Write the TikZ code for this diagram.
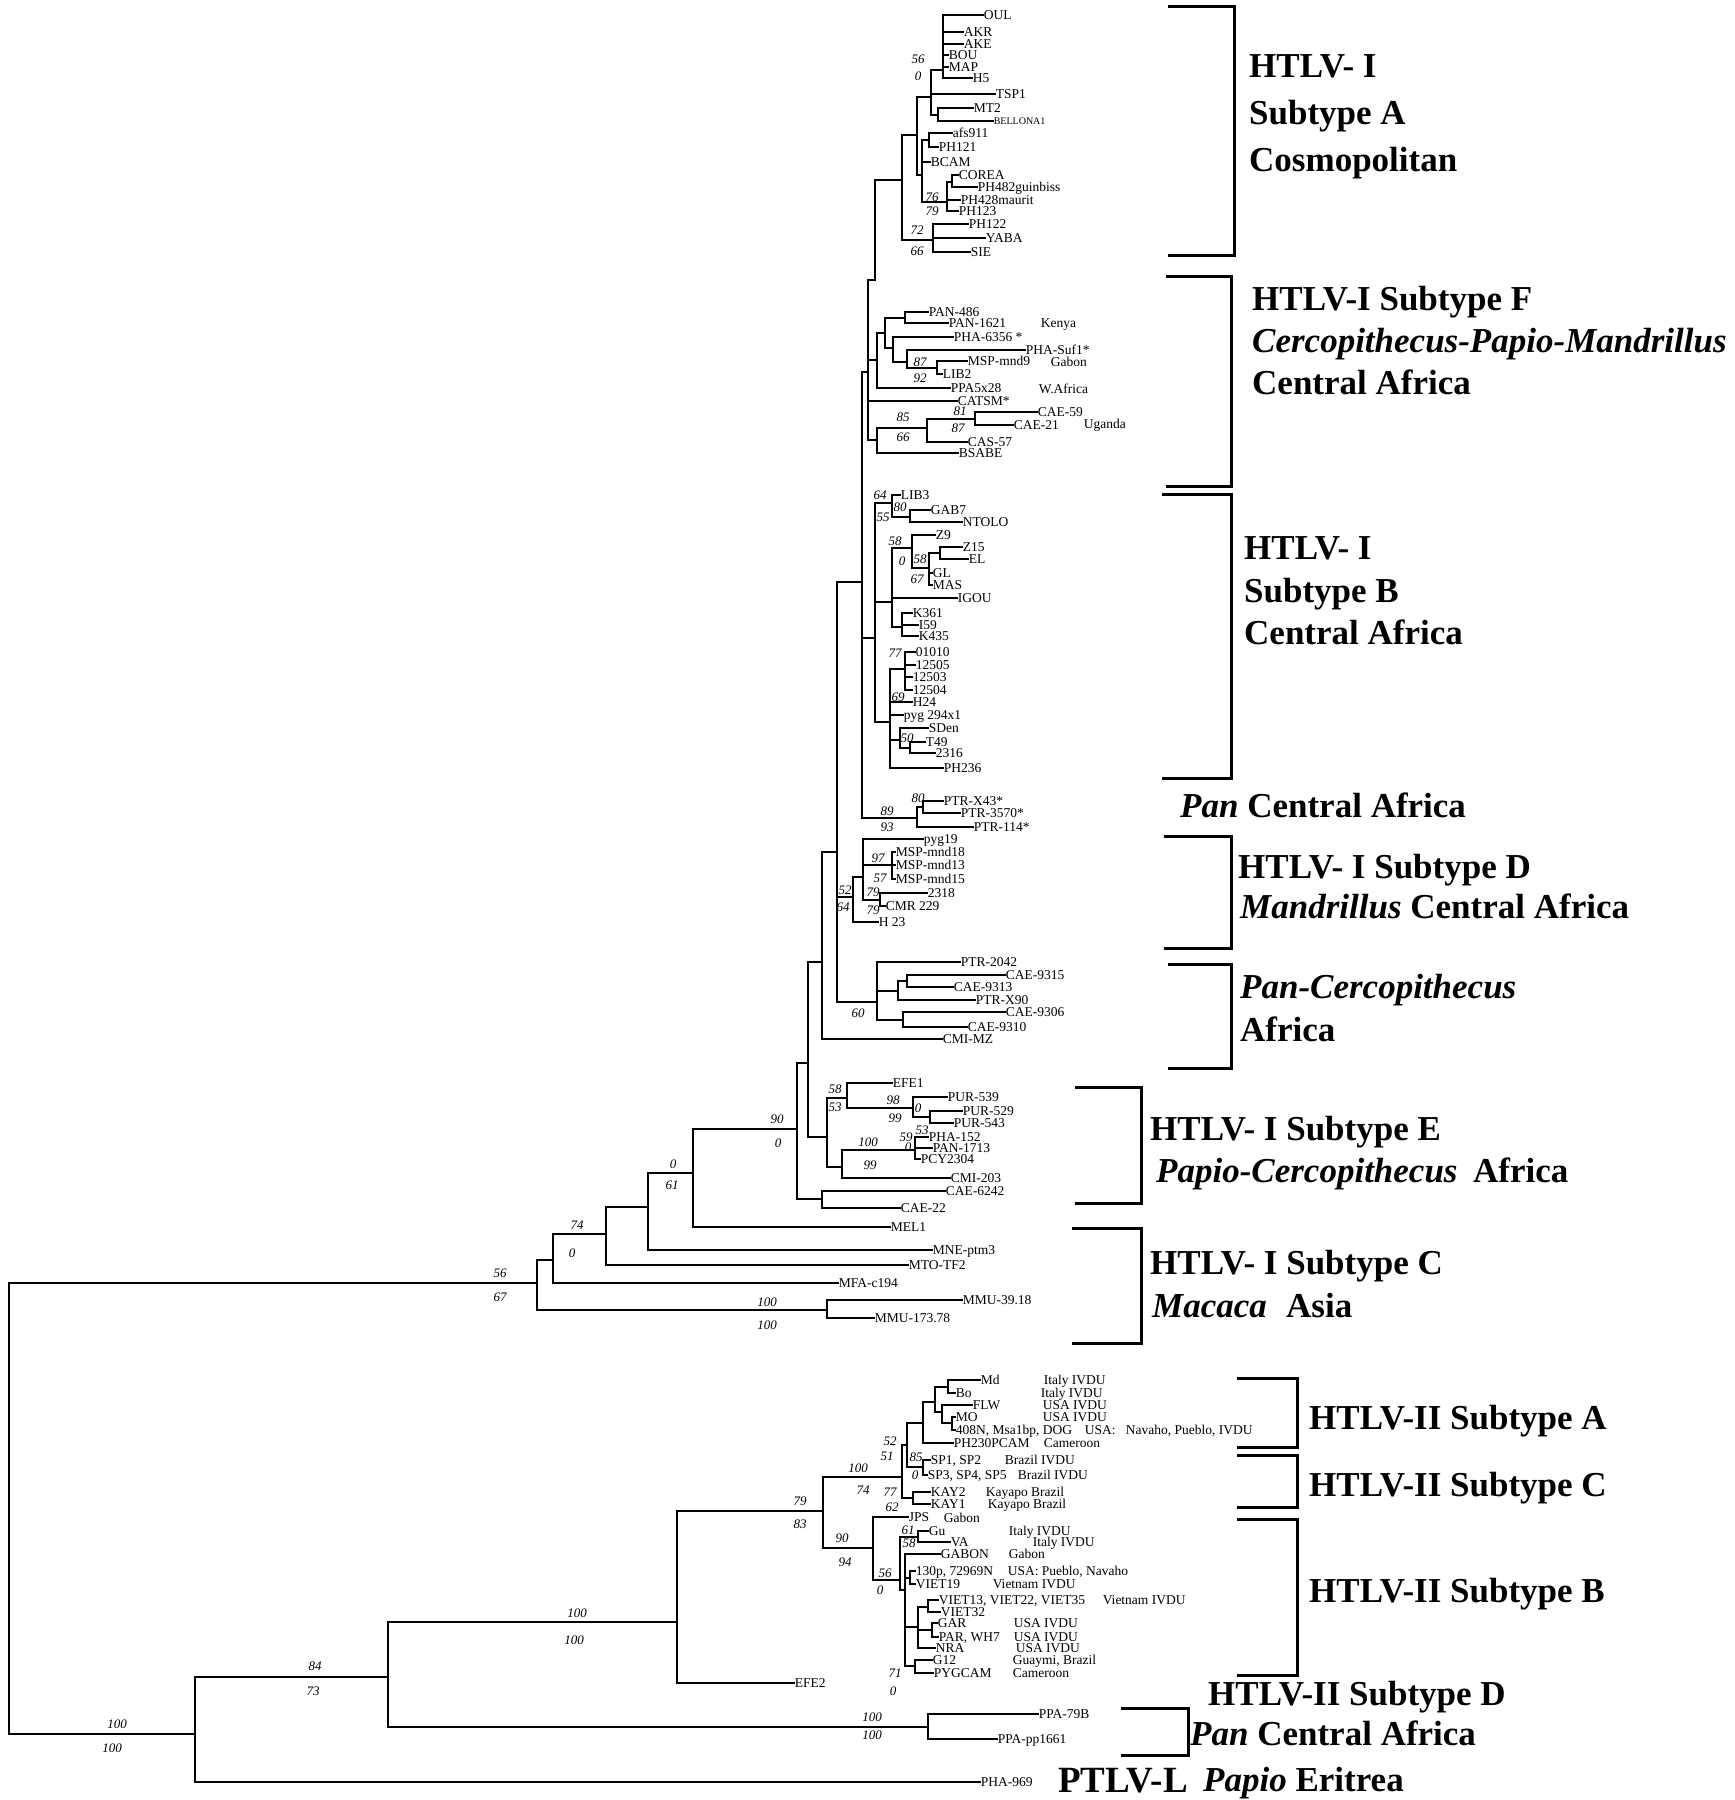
\documentclass[tikz,border=0pt]{standalone}
\usepackage{fontspec}
\setmainfont{Liberation Serif}
\newcommand\leaffont{\fontsize{13.5}{15}\selectfont}
\newcommand\smallleaffont{\fontsize{10}{11}\selectfont}
\newcommand\bsfont{\fontsize{13}{14}\selectfont\itshape}
\newcommand\grpfont{\fontsize{35}{40}\selectfont\bfseries}
\newcommand\ptlvfont{\fontsize{37}{42}\selectfont\bfseries}
\tikzset{
  br/.style={line width=2.8pt, line cap=rect},
  brk/.style={line width=3pt, line cap=rect, line join=miter},
  lf/.style={anchor=west, inner sep=0.6pt, font=\leaffont, text height=8.9pt, text depth=0pt},
  bsn/.style={inner sep=0pt, font=\bsfont},
  grp/.style={anchor=west, inner sep=0pt, font=\grpfont, text height=23pt, text depth=0pt},
}
\begin{document}
\begin{tikzpicture}[x=1pt,y=-1pt]
\useasboundingbox (0,0) rectangle (1735,1800);
\fill[white] (0,0) rectangle (1735,1800);

% ---------- internal nodes ----------
\foreach \n/\x/\y in {root/9/1283, n537/537/1283, n553/553/1260, n606/606/1234, n648/648/1207,
  n693/693/1173, n797/797/1129, n808/808/1063, n822/822/962, n837/837/852, n862/862/582,
  nAF/868/372, nAst/875/280, nA0/902/180, nA1/917/135, nA2/931/97, nOUL/943/70, nMT/938/115,
  nA3/922/175, naf/929/140, nCO/947/202, nCO1/952/182, nPY/933/240,
  nF/877/360, nF1/885/333, nPAN/905/318, nPHA6/893/348, nSuf/907/362, nMSP9/937/368,
  nCAE/877/440, nCAE1/927/428, nCAE2/975/419,
  nB/875/638, nB1/892/503, nB1a/910/517, nB2/892/602, nZ/912/548, nZ1/929/568, nZ2/940/553,
  nK/902/627, nB3/890/722, n77/905/669, nSD/900/740, nSD1/910/748,
  nPan/917/818, nPan1/923/807,
  nD/853/897, nD1/863/877, nMSP/892/865, nCMR/880/900,
  nPC/877/1002, nPC1/898/991, nPC3/907/981, nPC2/903/1020,
  nE/827/1137, nE1/847/1098, nPUR/913/1108, nPUR2/930/1117, nE2/842/1167, nPHA/915/1150,
  nCAEp/822/1199, nMMU/827/1310,
  n195/195/1734, n388/388/1677, nPPA/928/1727, n677/677/1622, n823/823/1511,
  nIIA/902/1477, nA1b/907/1445, nA2b/923/1423, nA3b/935/1402, nMd/948/1387, nA4b/942/1412,
  nA5b/952/1423, nSP/923/1467, nKAY/913/1498,
  nIIB/873/1548, nB56/900/1580, nGu/918/1537, nB3b/905/1590, n130/910/1578,
  nV/918/1627, nV1/928/1607, nGP/932/1630, nG/915/1666}
  \coordinate (\n) at (\x,\y);

% ---------- leaves ----------
\foreach \n/\x/\y/\t in {
  lOUL/983/15/OUL, lAKR/963/32/AKR, lAKE/963/44/AKE, lBOU/948/55/BOU, lMAP/948/67/MAP, lH5/972/78/H5,
  lTSP/995/94/TSP1, lMT2/973/108/MT2, lafs/952/133/afs911, lPH121/938/147/PH121, lBCAM/930/162/BCAM,
  lCOR/958/175/COREA, lPH482/977/187/PH482guinbiss, lPH428/960/200/PH428maurit, lPH123/958/211/PH123,
  lPH122/968/224/PH122, lYABA/985/238/YABA, lSIE/970/252/SIE,
  lPAN486/928/312/PAN-486, lPAN1621/948/323/PAN-1621, lPHA6356/953/337/PHA-6356 *,
  lSuf/1025/350/PHA-Suf1*, lMSP9/967/361/MSP-mnd9, lLIB2/942/374/LIB2, lPPA5/950/388/PPA5x28,
  lCATSM/957/401/CATSM*, lCAE59/1037/412/CAE-59, lCAE21/1013/425/CAE-21, lCAS57/967/442/CAS-57,
  lBSABE/958/453/BSABE,
  lLIB3/900/495/LIB3, lGAB7/930/510/GAB7, lNTOLO/962/522/NTOLO, lZ9/935/535/Z9, lZ15/962/547/Z15,
  lEL/968/559/EL, lGL/932/573/GL, lMAS/932/585/MAS, lIGOU/957/598/IGOU, lK361/912/613/K361,
  lI59/918/625/I59, lK435/918/636/K435, l01010/915/652/01010, l12505/915/665/12505,
  l12503/912/677/12503, l12504/912/690/12504, lH24/912/702/H24, lpyg/903/715/pyg 294x1,
  lSDen/928/728/SDen, lT49/925/742/T49, l2316/935/753/2316, lPH236/943/768/PH236,
  lX43/943/801/PTR-X43*, l3570/960/813/PTR-3570*, l114/973/827/PTR-114*,
  lpyg19/923/839/pyg19, lmnd18/895/852/MSP-mnd18, lmnd13/895/865/MSP-mnd13, lmnd15/895/879/MSP-mnd15,
  l2318/927/893/2318, lCMR/885/906/CMR 229, lH23/878/922/H 23,
  lPTR2042/960/962/PTR-2042, lCAE9315/1005/975/CAE-9315, lCAE9313/953/987/CAE-9313,
  lPTRX90/975/1000/PTR-X90, lCAE9306/1005/1012/CAE-9306, lCAE9310/967/1027/CAE-9310,
  lCMIMZ/942/1039/CMI-MZ,
  lEFE1/892/1083/EFE1, lPUR539/947/1097/PUR-539, lPUR529/962/1111/PUR-529, lPUR543/953/1123/PUR-543,
  lPHA152/928/1137/PHA-152, lPAN1713/932/1148/PAN-1713, lPCY/920/1159/PCY2304, lCMI203/950/1178/CMI-203,
  lCAE6242/945/1191/CAE-6242, lCAE22/900/1208/CAE-22, lMEL1/890/1227/MEL1, lMNE/932/1250/MNE-ptm3,
  lMTO/908/1265/MTO-TF2, lMFA/838/1283/MFA-c194, lMMU39/962/1300/MMU-39.18, lMMU173/874/1318/MMU-173.78,
  lMd/980/1380/Md, lBo/955/1393/Bo, lFLW/972/1405/FLW, lMO/955/1417/MO, l408/955/1430/{408N, Msa1bp, DOG},
  lPH230/953/1443/PH230PCAM, lSP1/930/1460/{SP1, SP2}, lSP3/927/1475/{SP3, SP4, SP5},
  lKAY2/930/1492/KAY2, lKAY1/930/1504/KAY1, lJPS/908/1517/JPS, lGu/928/1531/Gu, lVA/950/1542/VA,
  lGABON/940/1554/GABON, l130/915/1571/{130p, 72969N}, lV19/915/1584/VIET19,
  lV13/938/1600/{VIET13, VIET22, VIET35}, lV32/940/1612/VIET32, lGAR/937/1623/GAR,
  lPAR/938/1637/{PAR, WH7}, lNRA/935/1648/NRA, lG12/932/1660/G12, lPYG/933/1673/PYGCAM,
  lEFE2/794/1683/EFE2, lPPA79/1038/1714/PPA-79B, lPPApp/997/1739/PPA-pp1661, lPHA969/980/1782/PHA-969}
  \node[lf] (\n) at (\x,\y) {\t};
\node[lf, font=\smallleaffont, text height=6.6pt] (lBEL) at (993,121) {BELLONA1};

% ---------- locality texts ----------
\foreach \x/\y/\t [count=\i] in {
  1040/323/Kenya, 1050/362/Gabon, 1038/389/W.Africa, 1083/424/Uganda,
  1043/1380/Italy IVDU, 1040/1393/Italy IVDU, 1042/1405/USA IVDU, 1042/1417/USA IVDU,
  1084/1430/USA:, 1125/1430/{Navaho, Pueblo, IVDU}, 1043/1443/Cameroon,
  1004/1460/Brazil IVDU, 1017/1475/Brazil IVDU, 985/1492/Kayapo Brazil, 987/1504/Kayapo Brazil,
  943/1518/Gabon, 1008/1531/Italy IVDU, 1032/1542/Italy IVDU, 1008/1554/Gabon,
  1007/1571/{USA: Pueblo, Navaho}, 992/1584/Vietnam IVDU, 1102/1600/Vietnam IVDU,
  1013/1623/USA IVDU, 1013/1637/USA IVDU, 1015/1648/USA IVDU, 1012/1660/{Guaymi, Brazil},
  1012/1673/Cameroon}
  \node[lf] (loc\i) at (\x,\y) {\t};

% ---------- branches ----------
\foreach \a/\b in {root/n537, root/n195,
  n537/n553, n537/nMMU, nMMU/lMMU39, nMMU/lMMU173,
  n553/n606, n553/lMFA, n606/n648, n606/lMTO, n648/n693, n648/lMNE, n693/n797, n693/lMEL1,
  n797/n808, n797/nCAEp, nCAEp/lCAE6242, nCAEp/lCAE22,
  n808/n822, n808/nE, nE/nE1, nE/nE2, nE1/lEFE1, nE1/nPUR, nPUR/lPUR539, nPUR/nPUR2,
  nPUR2/lPUR529, nPUR2/lPUR543, nE2/nPHA, nE2/lCMI203, nPHA/lPHA152, nPHA/lPAN1713, nPHA/lPCY,
  n822/n837, n822/lCMIMZ, n837/n862, n837/nD, n837/nPC,
  nPC/lPTR2042, nPC/nPC1, nPC/nPC2, nPC1/nPC3, nPC1/lPTRX90, nPC3/lCAE9315, nPC3/lCAE9313,
  nPC2/lCAE9306, nPC2/lCAE9310,
  nD/nD1, nD/lH23, nD1/lpyg19, nD1/nMSP, nD1/nCMR, nMSP/lmnd18, nMSP/lmnd13, nMSP/lmnd15,
  nCMR/l2318, nCMR/lCMR,
  n862/nAF, n862/nB, n862/nPan, nPan/nPan1, nPan/l114, nPan1/lX43, nPan1/l3570,
  nB/nB1, nB/nB2, nB/nB3, nB1/lLIB3, nB1/nB1a, nB1a/lGAB7, nB1a/lNTOLO,
  nB2/nZ, nB2/lIGOU, nB2/nK, nZ/lZ9, nZ/nZ1, nZ1/nZ2, nZ1/lGL, nZ1/lMAS, nZ2/lZ15, nZ2/lEL,
  nK/lK361, nK/lI59, nK/lK435,
  nB3/n77, nB3/lH24, nB3/lpyg, nB3/nSD, nB3/lPH236,
  n77/l01010, n77/l12505, n77/l12503, n77/l12504, nSD/lSDen, nSD/nSD1, nSD1/lT49, nSD1/l2316,
  nAF/nAst, nAF/nF, nAF/lCATSM, nAF/nCAE, nAst/nA0,
  nA0/nA1, nA0/nPY, nA1/nA2, nA1/nA3, nA2/nOUL, nA2/lTSP, nA2/nMT,
  nOUL/lOUL, nOUL/lAKR, nOUL/lAKE, nOUL/lBOU, nOUL/lMAP, nOUL/lH5, nMT/lMT2, nMT/lBEL,
  nA3/naf, nA3/lBCAM, nA3/nCO, naf/lafs, naf/lPH121, nCO/nCO1, nCO/lPH428, nCO/lPH123,
  nCO1/lCOR, nCO1/lPH482, nPY/lPH122, nPY/lYABA, nPY/lSIE,
  nF/nF1, nF/lPPA5, nF1/nPAN, nF1/nPHA6, nPAN/lPAN486, nPAN/lPAN1621,
  nPHA6/lPHA6356, nPHA6/nSuf, nSuf/lSuf, nSuf/nMSP9, nMSP9/lMSP9, nMSP9/lLIB2,
  nCAE/nCAE1, nCAE/lBSABE, nCAE1/nCAE2, nCAE1/lCAS57, nCAE2/lCAE59, nCAE2/lCAE21,
  n195/n388, n195/lPHA969, n388/n677, n388/nPPA, nPPA/lPPA79, nPPA/lPPApp,
  n677/n823, n677/lEFE2, n823/nIIA, n823/nIIB,
  nIIA/nA1b, nIIA/nKAY, nA1b/nA2b, nA1b/nSP, nA2b/nA3b, nA2b/lPH230,
  nA3b/nMd, nA3b/nA4b, nMd/lMd, nMd/lBo, nA4b/lFLW, nA4b/nA5b, nA5b/lMO, nA5b/l408,
  nSP/lSP1, nSP/lSP3, nKAY/lKAY2, nKAY/lKAY1,
  nIIB/lJPS, nIIB/nB56, nB56/nGu, nB56/nB3b, nGu/lGu, nGu/lVA,
  nB3b/lGABON, nB3b/n130, nB3b/nV, nB3b/nG, n130/l130, n130/lV19,
  nV/nV1, nV/nGP, nV/lNRA, nV1/lV13, nV1/lV32, nGP/lGAR, nGP/lPAR, nG/lG12, nG/lPYG}
  \draw[br] (\a) |- (\b);

% ---------- bootstrap values ----------
\foreach \x/\y/\t [count=\i] in {
  918/59/56, 918/76/0, 932/197/76, 932/211/79, 917/230/72, 917/251/66,
  920/362/87, 920/378/92, 903/417/85, 903/437/66, 960/411/81, 958/428/87,
  880/495/64, 883/517/55, 900/507/80, 895/541/58, 902/561/0, 920/559/58, 917/579/67,
  895/653/77, 898/697/69, 907/738/50,
  918/798/80, 887/811/89, 887/827/93,
  878/858/97, 880/878/57, 873/892/79, 873/910/79, 845/890/52, 843/907/64,
  858/1013/60,
  835/1089/58, 835/1107/53, 893/1100/98, 895/1118/99, 918/1108/0, 922/1130/53, 906/1137/59,
  908/1147/0, 868/1142/100, 870/1165/99,
  777/1119/90, 778/1143/0, 673/1164/0, 672/1185/61, 577/1225/74, 572/1253/0,
  767/1302/100, 767/1325/100, 500/1273/56, 500/1297/67,
  117/1724/100, 112/1748/100, 315/1666/84, 313/1691/73, 577/1613/100, 574/1640/100,
  872/1717/100, 872/1735/100, 800/1501/79, 800/1524/83, 858/1468/100, 863/1490/74,
  842/1538/90, 845/1562/94, 890/1441/52, 887/1456/51, 916/1457/85, 915/1475/0,
  890/1492/77, 892/1507/62, 908/1530/61, 909/1543/58, 885/1573/56, 880/1590/0,
  895/1673/71, 893/1691/0}
  \node[bsn] (bs\i) at (\x,\y) {\t};

% ---------- brackets ----------
\draw[brk] (1169,6) -- (1234,6) -- (1234,255) -- (1169,255);
\draw[brk] (1167,276) -- (1231,276) -- (1231,486) -- (1167,486);
\draw[brk] (1163,494) -- (1231,494) -- (1231,778) -- (1163,778);
\draw[brk] (1165,836) -- (1231,836) -- (1231,948) -- (1165,948);
\draw[brk] (1169,964) -- (1231,964) -- (1231,1068) -- (1169,1068);
\draw[brk] (1076,1087) -- (1141,1087) -- (1141,1203) -- (1076,1203);
\draw[brk] (1073,1228) -- (1141,1228) -- (1141,1343) -- (1073,1343);
\draw[brk] (1238,1378) -- (1297,1378) -- (1297,1447) -- (1238,1447);
\draw[brk] (1238,1455) -- (1297,1455) -- (1297,1507) -- (1238,1507);
\draw[brk] (1238,1519) -- (1297,1519) -- (1297,1675) -- (1238,1675);
\draw[brk] (1122,1708) -- (1188,1708) -- (1188,1755) -- (1122,1755);

% ---------- group labels ----------
\node[grp] (gA1) at (1249,66) {HTLV- I};
\node[grp] (gA2) at (1249,113) {Subtype A};
\node[grp] (gA3) at (1249,160) {Cosmopolitan};
\node[grp] (gF1) at (1252,299) {HTLV-I Subtype F};
\node[grp] (gF2) at (1252,341) {\itshape Cercopithecus-Papio-Mandrillus};
\node[grp] (gF3) at (1252,383) {Central Africa};
\node[grp] (gB1) at (1244,548) {HTLV- I};
\node[grp] (gB2) at (1244,591) {Subtype B};
\node[grp] (gB3) at (1244,633) {Central Africa};
\node[grp] (gP1) at (1180,806) {{\itshape Pan} Central Africa};
\node[grp] (gD1) at (1238,867) {HTLV- I Subtype D};
\node[grp] (gD2) at (1240,907) {{\itshape Mandrillus} Central Africa};
\node[grp] (gPC1) at (1240,987) {\itshape Pan-Cercopithecus};
\node[grp] (gPC2) at (1240,1030) {Africa};
\node[grp] (gE1) at (1150,1129) {HTLV- I Subtype E};
\node[grp] (gE2) at (1156,1171) {\itshape Papio-Cercopithecus};
\node[grp] (gE3) at (1473,1171) {Africa};
\node[grp] (gC1) at (1150,1263) {HTLV- I Subtype C};
\node[grp] (gC2) at (1152,1306) {\itshape Macaca};
\node[grp] (gC3) at (1286,1306) {Asia};
\node[grp] (g2A) at (1309,1418) {HTLV-II Subtype A};
\node[grp] (g2C) at (1309,1485) {HTLV-II Subtype C};
\node[grp] (g2B) at (1309,1591) {HTLV-II Subtype B};
\node[grp] (g2D) at (1208,1694) {HTLV-II Subtype D};
\node[grp] (g2P) at (1190,1734) {{\itshape Pan} Central Africa};
\node[grp, font=\ptlvfont, text height=24.5pt] (gL1) at (1058,1780) {PTLV-L};
\node[grp] (gL2) at (1203,1780) {{\itshape Papio} Eritrea};
\end{tikzpicture}
\end{document}
